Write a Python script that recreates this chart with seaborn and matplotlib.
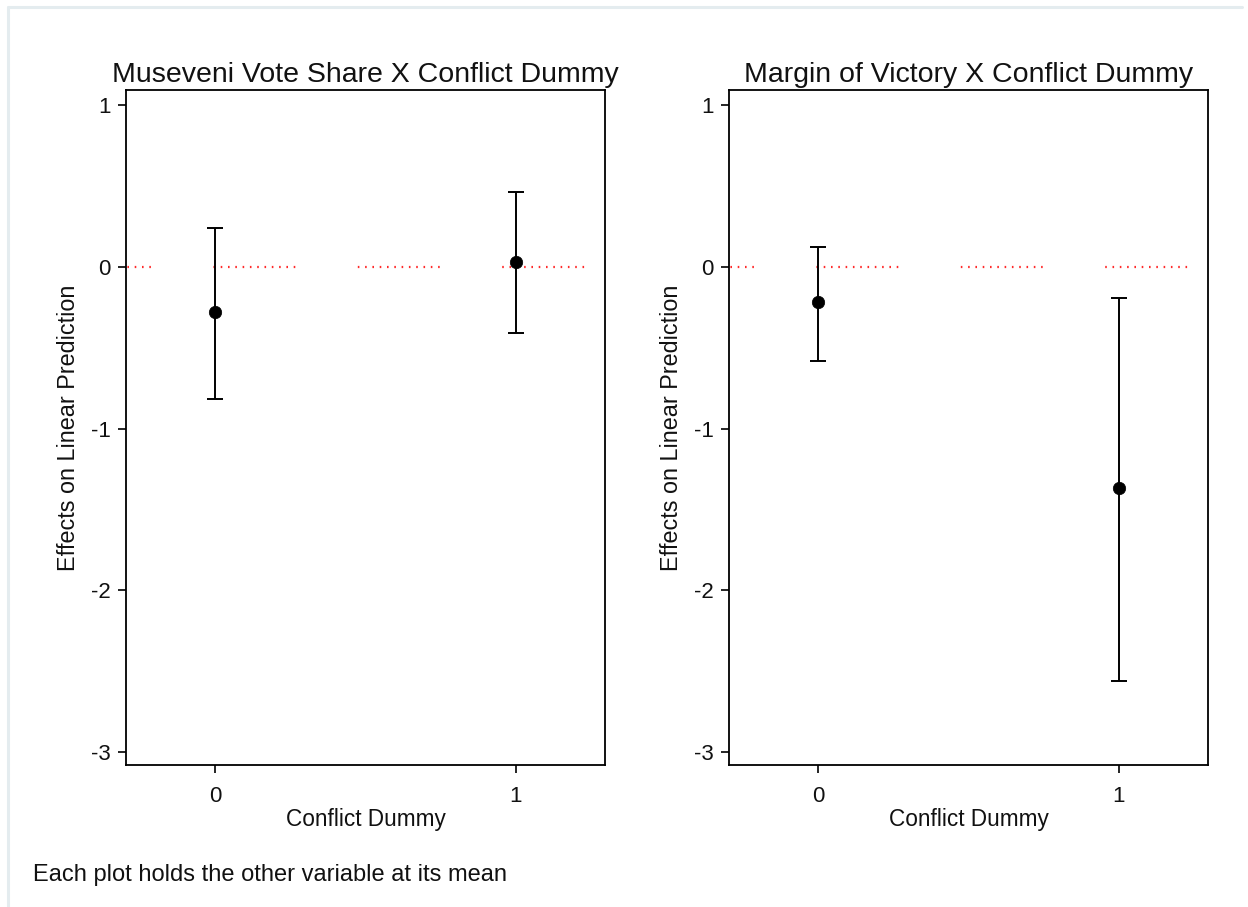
import matplotlib
matplotlib.use("Agg")
import matplotlib.pyplot as plt
from matplotlib.lines import Line2D
import seaborn as sns
import pandas as pd

# Marginal effects with 95% confidence intervals
conflict_levels = [0, 1]

vote_share_effect = [-0.28, 0.03]
vote_share_lower = [-0.82, -0.41]
vote_share_upper = [0.24, 0.46]

margin_effect = [-0.22, -1.37]
margin_lower = [-0.58, -2.56]
margin_upper = [0.12, -0.19]

panel_titles = ["Museveni Vote Share X Conflict Dummy", "Margin of Victory X Conflict Dummy"]
y_ticks = [1, 0, -1, -2, -3]
x_label = "Conflict Dummy"
y_label = "Effects on Linear Prediction"
note = "Each plot holds the other variable at its mean"

sns.set_theme(style="ticks")
plt.rcParams["font.family"] = ["Liberation Sans", "DejaVu Sans"]
plt.rcParams["lines.scale_dashes"] = False

fig = plt.figure(figsize=(12.48, 9.07), dpi=100)
fig.patch.set_facecolor("white")

# thin outer frame on the top and left edges
frame_color = "#e4ecef"
fig.add_artist(Line2D([8 / 1248, 8 / 1248], [0, 1 - 7 / 907], transform=fig.transFigure,
                      color=frame_color, lw=2.2))
fig.add_artist(Line2D([8 / 1248, 1242 / 1248], [1 - 7 / 907, 1 - 7 / 907], transform=fig.transFigure,
                      color=frame_color, lw=2.2))

px = 0.72  # one pixel in points at 100 dpi
dot_pattern = []
for _ in range(11):
    dot_pattern += [1.6 * px, 5.7 * px]
dot_pattern += [1.6 * px, 62.5 * px]
ref_style = (57 * px, dot_pattern)

panels = [
    (vote_share_effect, vote_share_lower, vote_share_upper),
    (margin_effect, margin_lower, margin_upper),
]
lefts = [126 / 1248, 729 / 1248]

for i, (eff, lo, hi) in enumerate(panels):
    ax = fig.add_axes([lefts[i], 1 - 765 / 907, 479 / 1248, 675 / 907])
    df = pd.DataFrame({"level": conflict_levels, "effect": eff, "lower": lo, "upper": hi})

    ax.axhline(0, color="#ff2a2a", lw=1.6, linestyle=ref_style, zorder=1)
    yerr = [df["effect"] - df["lower"], df["upper"] - df["effect"]]
    ax.errorbar(df["level"], df["effect"], yerr=yerr, fmt="none", ecolor="black",
                elinewidth=1.4, capsize=5.5, capthick=1.4, zorder=2)
    sns.scatterplot(data=df, x="level", y="effect", ax=ax, color="black", s=80,
                    marker="o", edgecolor="black", linewidth=0.5, zorder=3, legend=False)

    ax.set_xlim(-0.297, 1.297)
    ax.set_ylim(-3.08, 1.093)
    ax.set_xticks(conflict_levels)
    ax.set_xticklabels([str(v) for v in conflict_levels])
    ax.set_yticks(y_ticks)
    ax.set_yticklabels([str(v) for v in y_ticks])
    ax.tick_params(axis="both", direction="out", length=6, width=1.2, color="black",
                   labelsize=16, labelcolor="#111111")
    ax.tick_params(axis="x", pad=9)
    ax.tick_params(axis="y", pad=5)
    for s in ax.spines.values():
        s.set_visible(True)
        s.set_color("black")
        s.set_linewidth(1.3)
    ax.set_xlabel(x_label, fontsize=16.3, color="#111111", labelpad=1)
    ax.set_ylabel(y_label, fontsize=16.8, color="#111111", labelpad=8)
    ax.set_title(panel_titles[i], fontsize=20.5, color="#111111", pad=6)
    ax.set_facecolor("white")

fig.text(33 / 1248, 1 - 875 / 907, note, fontsize=17, color="#111111", va="center", ha="left")

fig.savefig("out.png", dpi=100, facecolor="white")
